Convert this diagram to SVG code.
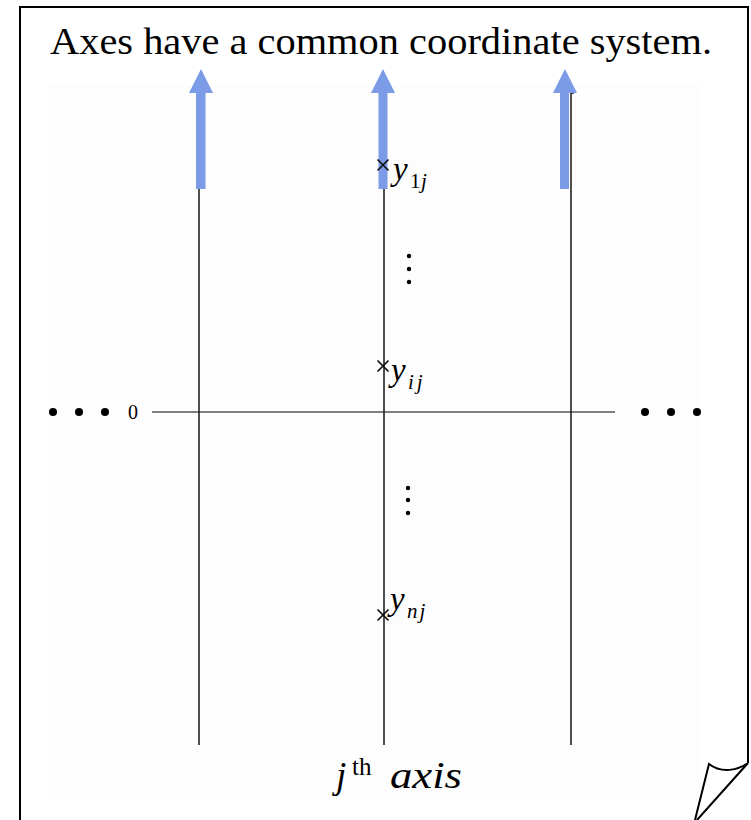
<svg xmlns="http://www.w3.org/2000/svg" width="751" height="820" viewBox="0 0 751 820">
<defs>
<style>
.serif{font-family:"Liberation Serif","DejaVu Serif",serif;fill:#000}
.it{font-style:italic}
.axis{stroke:#222;stroke-width:1.6;fill:none}
.blue{fill:#7b9be6}
.dot{fill:#000}
.xm{stroke:#111;stroke-width:1.7}
</style>
<marker id="ah" viewBox="0 0 10 10" refX="5" refY="2" markerWidth="6" markerHeight="6" orient="auto-start-reverse" markerUnits="userSpaceOnUse">
<path d="M0,6 L5,0 L10,6" fill="none" stroke="#000" stroke-width="2"/>
</marker>
</defs>
<rect width="751" height="820" fill="#fff"/>
<g id="page">
<rect x="47" y="85" width="653" height="715" fill="#fdfdfd"/>
<path d="M20,820 L20,7 L748,7 L748,763" fill="none" stroke="#000" stroke-width="2"/>
<path d="M748,763 C738,770 722,774 709,764 L695,820 M748,763 L697,820" fill="none" stroke="#000" stroke-width="2"/>
</g>
<g id="title">
<text class="serif" x="50" y="54" font-size="37" textLength="662" lengthAdjust="spacingAndGlyphs">Axes have a common coordinate system.</text>
</g>
<g id="connectors">
<line x1="152" y1="412" x2="615" y2="412" style="stroke:#555;stroke-width:1.3"/>
<line class="axis" x1="199" y1="745" x2="199" y2="91" marker-end="url(#ah)"/>
<line class="axis" x1="384" y1="745" x2="384" y2="91" marker-end="url(#ah)"/>
<line class="axis" x1="571" y1="745" x2="571" y2="91" marker-end="url(#ah)"/>
</g>
<g id="arrow1"><path class="blue" d="M196,189 L196,93 L189,93 L201,69 L213,93 L205.5,93 L205.5,189 Z"/></g>
<g id="arrow2"><path class="blue" d="M378.5,189 L378.5,93 L371,93 L383,69 L395,93 L387.5,93 L387.5,189 Z"/></g>
<g id="arrow3"><path class="blue" d="M560,189 L560,93 L553,93 L565,69 L577,93 L569,93 L569,189 Z"/></g>
<g id="zero"><text class="serif" x="128" y="419" font-size="20">0</text></g>
<g id="dots-left"><circle class="dot" cx="53" cy="412" r="4"/><circle class="dot" cx="79" cy="412" r="4"/><circle class="dot" cx="105" cy="412" r="4"/></g>
<g id="dots-right"><circle class="dot" cx="645" cy="412" r="4"/><circle class="dot" cx="671" cy="412" r="4"/><circle class="dot" cx="697" cy="412" r="4"/></g>
<g id="y1j">
<path class="xm" d="M377.5,159.5 L388.5,170.5 M388.5,159.5 L377.5,170.5"/>
<text class="serif it" x="393" y="180" font-size="33">y</text>
<text class="serif" x="410" y="188" font-size="21">1</text>
<text class="serif it" x="421" y="188" font-size="21">j</text>
</g>
<g id="vdots-upper"><circle class="dot" cx="409" cy="256" r="2.2"/><circle class="dot" cx="409" cy="269" r="2.2"/><circle class="dot" cx="409" cy="282" r="2.2"/></g>
<g id="yij">
<path class="xm" d="M377.5,360.5 L388.5,371.5 M388.5,360.5 L377.5,371.5"/>
<text class="serif it" x="391" y="381" font-size="33">y</text>
<text class="serif it" x="408" y="389" font-size="21" letter-spacing="3">ij</text>
</g>
<g id="vdots-lower"><circle class="dot" cx="408" cy="488" r="2.2"/><circle class="dot" cx="408" cy="500" r="2.2"/><circle class="dot" cx="408" cy="513" r="2.2"/></g>
<g id="ynj">
<path class="xm" d="M377.5,609.5 L388.5,620.5 M388.5,609.5 L377.5,620.5"/>
<text class="serif it" x="390" y="610" font-size="33">y</text>
<text class="serif it" x="407" y="618" font-size="21" letter-spacing="2">nj</text>
</g>
<g id="axis-label">
<text class="serif it" x="336" y="788" font-size="37">j</text>
<text class="serif" x="352" y="775" font-size="25">th</text>
<text class="serif it" x="390" y="788" font-size="37" textLength="72" lengthAdjust="spacingAndGlyphs">axis</text>
</g>
</svg>
